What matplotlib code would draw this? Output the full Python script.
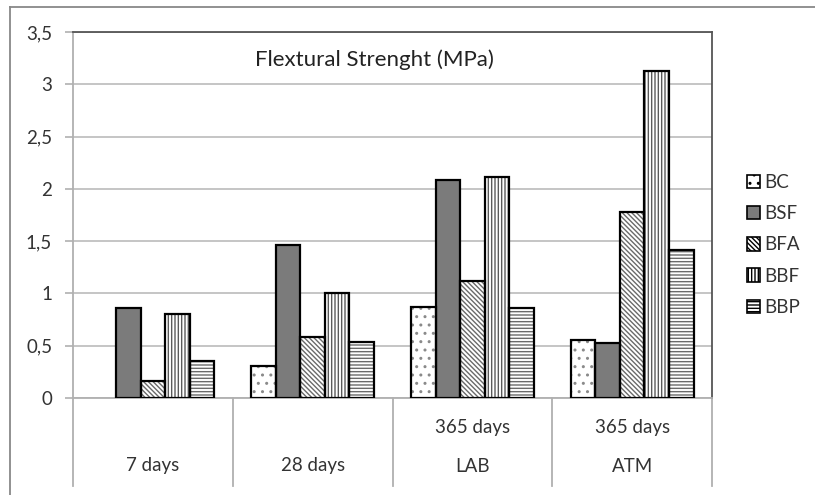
import numpy as np
import matplotlib.pyplot as plt
from matplotlib.patches import Patch
from matplotlib.lines import Line2D
import matplotlib.transforms as mtransforms

plt.rcParams['font.family'] = ['Lato', 'DejaVu Sans']
plt.rcParams['hatch.linewidth'] = 1.0

# data
groups_top = ['', '', '365 days', '365 days']
groups_bottom = ['7 days', '28 days', 'LAB', 'ATM']
series = ['BC', 'BSF', 'BFA', 'BBF', 'BBP']
BC = [0.0, 0.31, 0.87, 0.55]
BSF = [0.86, 1.46, 2.08, 0.53]
BFA = [0.16, 0.58, 1.12, 1.78]
BBF = [0.80, 1.00, 2.11, 3.13]
BBP = [0.35, 0.54, 0.86, 1.42]
values = [BC, BSF, BFA, BBF, BBP]
yticks = [0, 0.5, 1, 1.5, 2, 2.5, 3, 3.5]

fills = ['white', '#7b7b7b', 'white', 'white', 'white']
hatches = ['..', None, '\\\\\\\\\\\\\\', '|||||', '-----']
hatch_cols = ['#8a8a8a', '#7b7b7b', '#6a6a6a', '#5a5a5a', '#6a6a6a']

fig = plt.figure(figsize=(8.15, 4.95), dpi=100)
ax = fig.add_axes([73 / 815, 1 - 398 / 495, (712 - 73) / 815, (398 - 32) / 495])

x = np.arange(len(groups_bottom))
w = 1 / 6.5
for i, (name, vals) in enumerate(zip(series, values)):
    vals = np.array(vals)
    keep = vals > 0
    pos = (x + (i - 2) * w)[keep]
    ax.bar(pos, vals[keep], w, color=fills[i], hatch=hatches[i],
           edgecolor=hatch_cols[i], linewidth=0, zorder=3)
    ax.bar(pos, vals[keep], w, fill=False, edgecolor='black', linewidth=1.6, zorder=4)

ax.set_xlim(-0.5, 3.5)
ax.set_ylim(0, 3.5)
ax.set_yticks(yticks)
ax.set_yticklabels([f'{t:g}'.replace('.', ',') for t in yticks], fontsize=13.5, color='#333333')
ax.set_xticks([])
ax.tick_params(axis='y', length=6, color='#b0b0b0', width=1.2, pad=9)
ax.grid(axis='y', color='#c0c0c0', linewidth=1.3, zorder=0)
ax.set_axisbelow(True)
for side in ['left', 'bottom']:
    ax.spines[side].set_color('#b0b0b0')
    ax.spines[side].set_linewidth(1.3)
for side in ['top', 'right']:
    ax.spines[side].set_color('#555555')
    ax.spines[side].set_linewidth(1.3)

ax.text(0.472, 0.923, 'Flextural Strenght (MPa)', transform=ax.transAxes,
        ha='center', va='center', fontsize=16, color='#222222')

# two-level category axis
trans = mtransforms.blended_transform_factory(ax.transData, ax.transAxes)
ax_h = (398 - 32)
for k in range(len(groups_bottom) + 1):
    ax.add_line(Line2D([k - 0.5, k - 0.5], [0, -88 / ax_h], transform=trans,
                       color='#b0b0b0', linewidth=1.3, clip_on=False))
for k in range(len(groups_bottom)):
    if groups_top[k]:
        ax.text(k, -30 / ax_h, groups_top[k], transform=trans, ha='center',
                va='center', fontsize=13.5, color='#333333')
    ax.text(k, -68 / ax_h, groups_bottom[k], transform=trans, ha='center',
            va='center', fontsize=13.5, color='#333333')

handles = [Patch(facecolor=fills[i], hatch=hatches[i], edgecolor='black', linewidth=1.2)
           for i in range(len(series))]
fig.legend(handles, series, loc='center left', bbox_to_anchor=(730 / 815, 1 - 245 / 495),
           frameon=False, fontsize=13.5, handlelength=0.7, handleheight=0.7,
           handletextpad=0.2, labelspacing=0.75, labelcolor='#333333')

# outer chart frame
fig.add_artist(Line2D([10 / 815, 10 / 815], [0, 1 - 7 / 495], color='#888888', linewidth=1.3))
fig.add_artist(Line2D([10 / 815, 1], [1 - 7 / 495, 1 - 7 / 495], color='#888888', linewidth=1.3))

fig.savefig('out.png', dpi=100)
